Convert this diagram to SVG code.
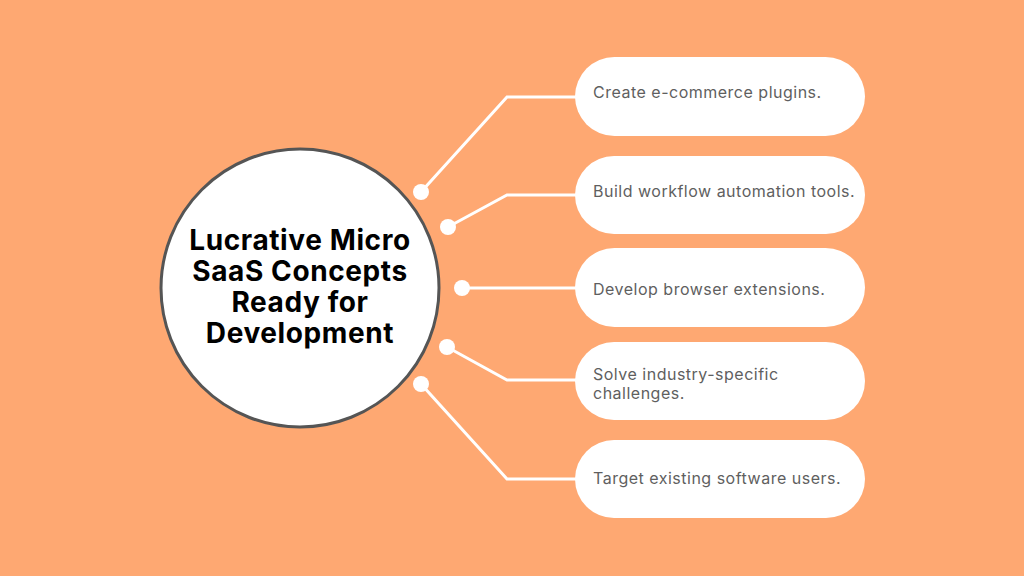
<svg xmlns="http://www.w3.org/2000/svg" width="1024" height="576" viewBox="0 0 1024 576">
<style>
.pill{fill:#fff}
.pt{font-family:Inter,"Open Sans",sans-serif;font-size:16px;letter-spacing:0.5px;fill:#5f5f5f}
.title{font-family:Inter,"Noto Sans",sans-serif;font-size:28px;letter-spacing:0.6px;font-weight:700;fill:#000;text-anchor:middle}
.con{fill:none;stroke:#fff;stroke-width:3;stroke-linejoin:miter}
.dot{fill:#fff}
</style>
<rect width="1024" height="576" fill="#FEA872"/>
<g id="connectors">
<polyline class="con" points="421,192 507,97 576,97"/>
<polyline class="con" points="448,227 507,195 576,195"/>
<polyline class="con" points="462,288 576,288"/>
<polyline class="con" points="447,347 507,380 576,380"/>
<polyline class="con" points="421,384 507,479 576,479"/>
<circle class="dot" cx="421" cy="192" r="8"/>
<circle class="dot" cx="448" cy="227" r="8"/>
<circle class="dot" cx="462" cy="288" r="8"/>
<circle class="dot" cx="447" cy="347" r="8"/>
<circle class="dot" cx="421" cy="384" r="8"/>
</g>
<g id="center">
<circle cx="300" cy="288" r="139" fill="#fff" stroke="#555" stroke-width="3"/>
<text class="title"><tspan x="300" y="250">Lucrative Micro</tspan><tspan x="300" y="281">SaaS Concepts</tspan><tspan x="300" y="312">Ready for</tspan><tspan x="300" y="343">Development</tspan></text>
</g>
<g id="n1"><rect class="pill" x="575" y="57" width="290" height="79" rx="39.5"/><text class="pt" x="593" y="98">Create e-commerce plugins.</text></g>
<g id="n2"><rect class="pill" x="575" y="156" width="290" height="78" rx="39"/><text class="pt" x="593" y="197">Build workflow automation tools.</text></g>
<g id="n3"><rect class="pill" x="575" y="248" width="290" height="79" rx="39.5"/><text class="pt" x="593" y="295">Develop browser extensions.</text></g>
<g id="n4"><rect class="pill" x="575" y="342" width="290" height="78" rx="39"/><text class="pt"><tspan x="593" y="380">Solve industry-specific</tspan><tspan x="593" y="399">challenges.</tspan></text></g>
<g id="n5"><rect class="pill" x="575" y="440" width="290" height="78" rx="39"/><text class="pt" x="593" y="484">Target existing software users.</text></g>
</svg>
